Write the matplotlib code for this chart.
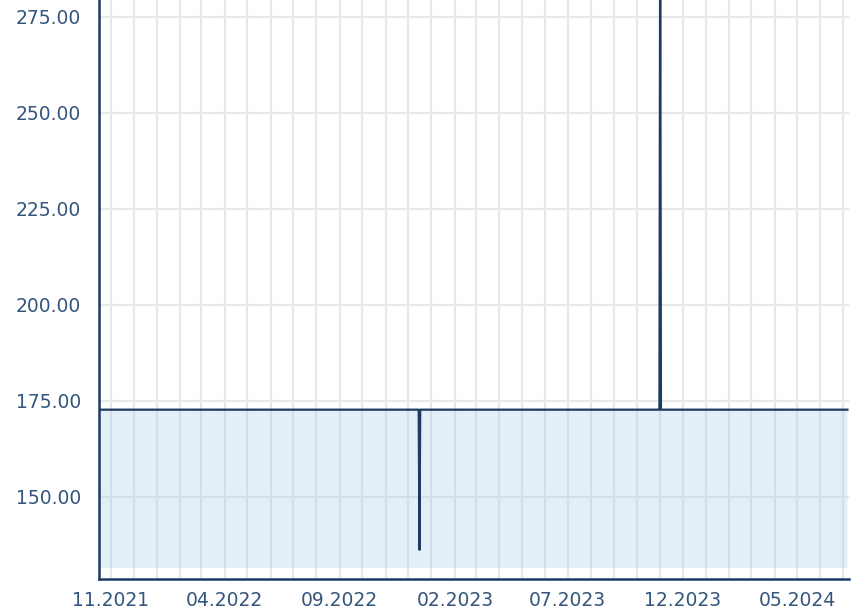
import matplotlib
matplotlib.use('Agg')
import matplotlib.pyplot as plt
import matplotlib.dates as mdates
import pandas as pd

# price series (flat line with one dip and one spike)
dates = ['2021-10-16', '2022-12-15', '2022-12-16', '2022-12-17',
         '2023-10-31', '2023-11-01', '2023-11-02', '2024-07-07']
values = [172.7, 172.7, 136.2, 172.7, 172.7, 300.0, 172.7, 172.7]

ytick_values = [150, 175, 200, 225, 250, 275]
xtick_labels = ['11.2021', '04.2022', '09.2022', '02.2023',
                '07.2023', '12.2023', '05.2024']

fill_base = 131.5

line_color = '#1c3a62'
fill_color = '#a2cbeb'
grid_color = '#e8e8e8'
label_color = '#34557c'

x = pd.to_datetime(dates)
xticks = pd.to_datetime(xtick_labels, format='%m.%Y')

fig = plt.figure(figsize=(8.51, 6.11), dpi=100)
ax = fig.add_axes([99 / 851, 32 / 611, 750 / 851, 579 / 611])

# light fill, semi transparent so the grid shows through like the original
ax.fill_between(x, values, fill_base, color=fill_color, alpha=0.3,
                linewidth=0, zorder=1)
ax.plot(x, values, color=line_color, linewidth=1.6, zorder=3)

ax.set_ylim(128.6, 279.4)
ax.set_xlim(pd.Timestamp('2021-10-16'), pd.Timestamp('2024-07-09'))

ax.set_yticks(ytick_values)
ax.set_yticklabels(['%.2f' % v for v in ytick_values])
ax.set_xticks(xticks)
ax.set_xticklabels(xtick_labels)
ax.xaxis.set_minor_locator(mdates.MonthLocator())

# monthly vertical grid, horizontal grid at each y tick
ax.grid(True, which='both', axis='x', color=grid_color, linewidth=1.6, zorder=0)
ax.grid(True, which='major', axis='y', color=grid_color, linewidth=1.6, zorder=0)
ax.set_axisbelow(True)

for side in ['top', 'right']:
    ax.spines[side].set_visible(False)
for side in ['left', 'bottom']:
    ax.spines[side].set_color(line_color)
    ax.spines[side].set_linewidth(1.8)

ax.tick_params(axis='both', which='both', length=0, labelsize=13.5,
               labelcolor=label_color)
ax.tick_params(axis='y', pad=13)
ax.tick_params(axis='x', pad=9)

fig.savefig('out.png', dpi=100)
